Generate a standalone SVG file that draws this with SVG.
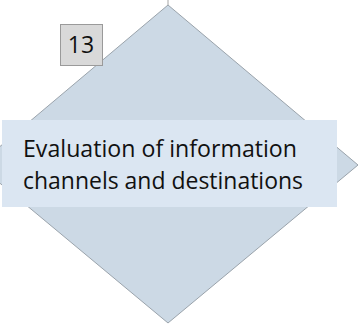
<svg xmlns="http://www.w3.org/2000/svg" width="359" height="325" viewBox="0 0 359 325">
<style>
.lbl{font-family:"Open Sans","Noto Sans",sans-serif;fill:#111}
</style>
<rect width="359" height="325" fill="#ffffff"/>
<g id="connectors">
<line x1="168" y1="0" x2="168" y2="5" stroke="#a6a6a6" stroke-width="1"/>
</g>
<g id="diamond">
<polygon points="168,5 358,165 168,323 -22,165" fill="#ccd9e5" stroke="#9aa3ab" stroke-width="1"/>
</g>
<g id="label">
<rect x="2" y="120" width="335" height="87" fill="#dbe6f2"/>
<text class="lbl" x="23" y="157" font-size="23" textLength="274" lengthAdjust="spacingAndGlyphs">Evaluation of information</text>
<text class="lbl" x="23" y="189" font-size="23" textLength="280" lengthAdjust="spacingAndGlyphs">channels and destinations</text>
</g>
<g id="badge">
<rect x="60.5" y="24.5" width="42" height="41" fill="#d9d9d9" stroke="#9a9a9a" stroke-width="1"/>
<text class="lbl" x="81" y="53" font-size="23" text-anchor="middle">13</text>
</g>
</svg>
